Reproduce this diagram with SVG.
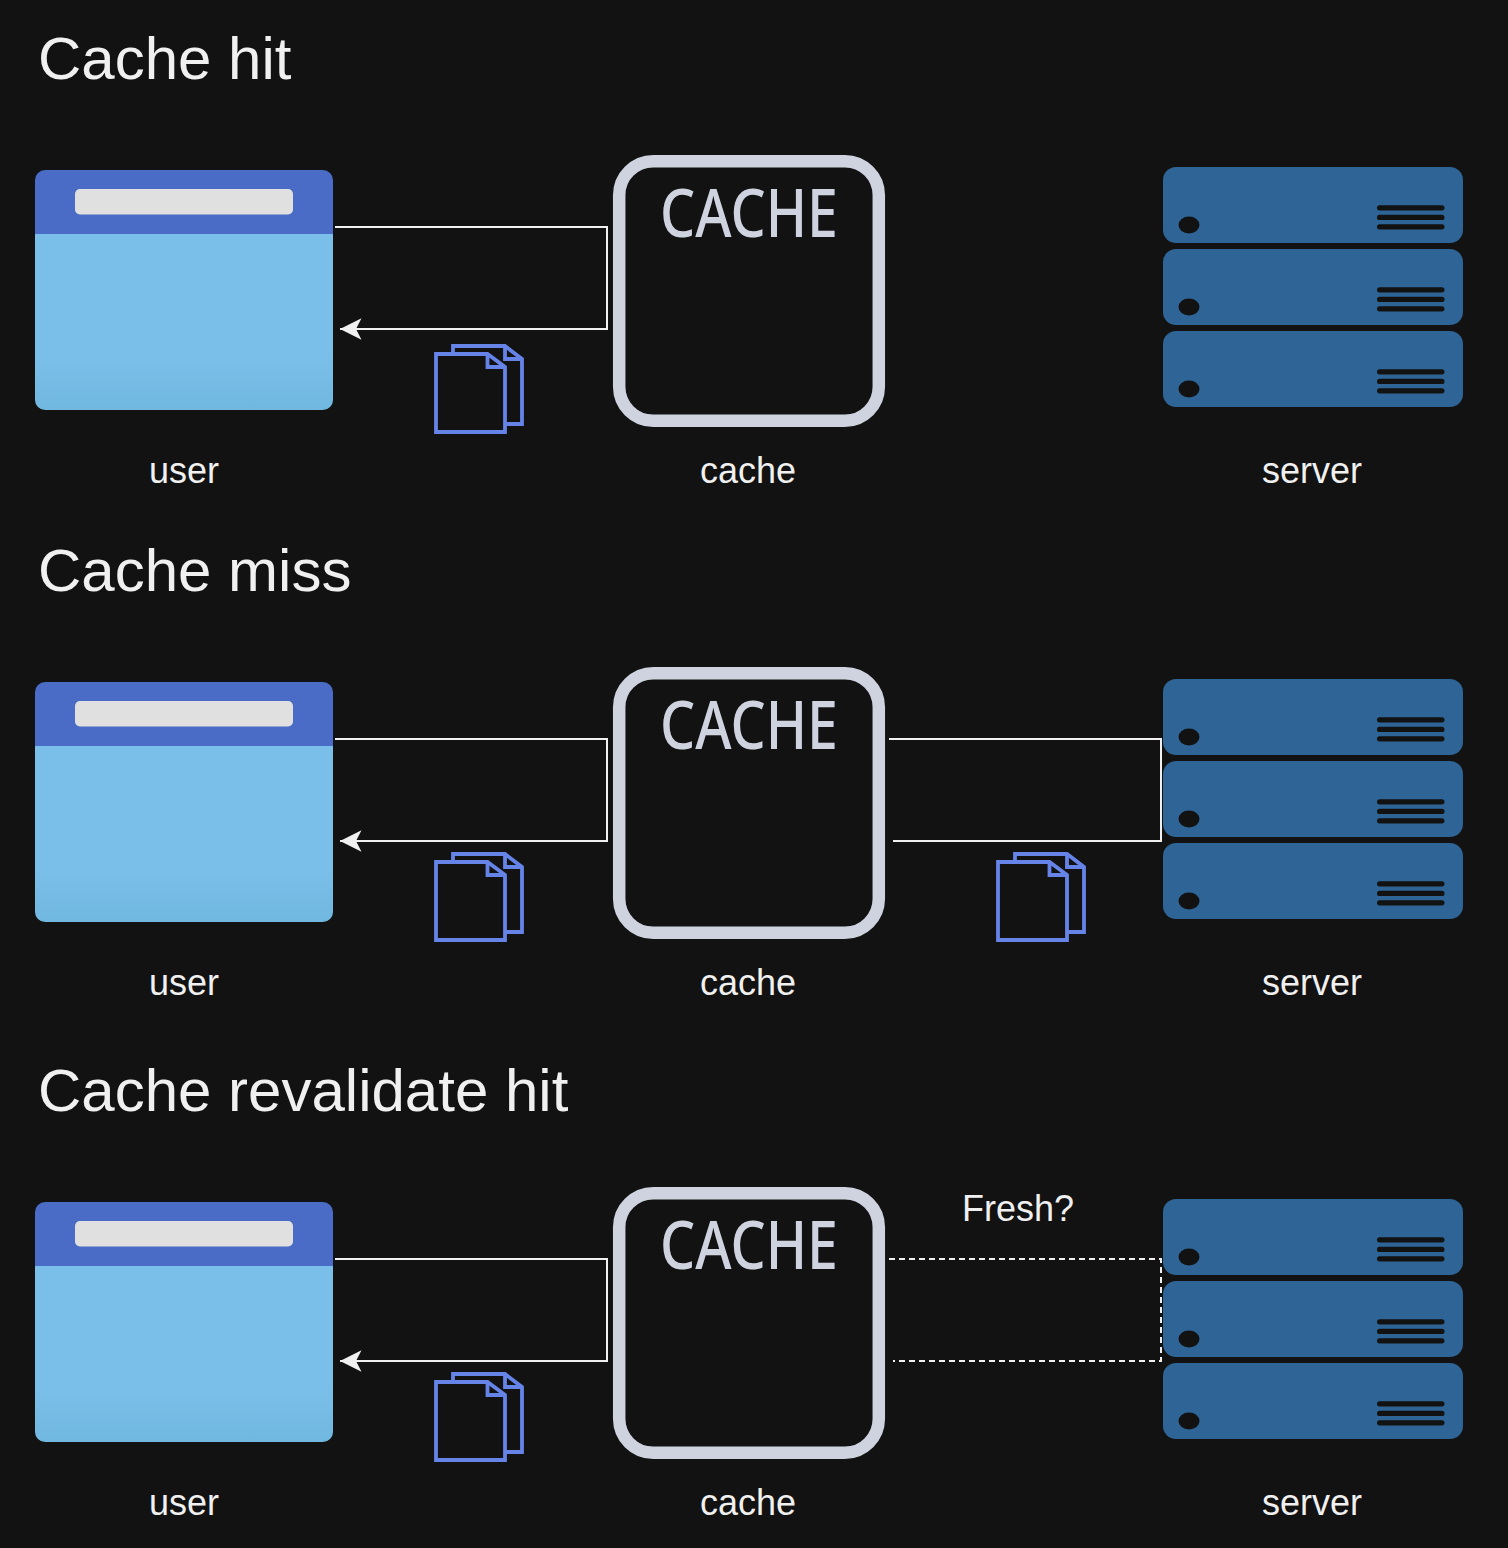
<svg xmlns="http://www.w3.org/2000/svg" width="1508" height="1548" viewBox="0 0 1508 1548">
<style>
.title{font:60px "Liberation Sans",Arial,sans-serif;fill:#f0f0f0}
.label{font:36px "Liberation Sans",Arial,sans-serif;fill:#f0f0f0;text-anchor:middle}
.cachetxt{font:500 67px "Noto Sans",sans-serif;fill:#cfd3e0;text-anchor:middle}
.wire{fill:none;stroke:#f0f0f0;stroke-width:2}
.dash{stroke-dasharray:6 4}
.doc{fill:none;stroke:#6684e8;stroke-width:3.800}
.slot{fill:#121212}
</style>
<defs>
<linearGradient id="body" x1="0" y1="0" x2="0" y2="1"><stop offset="0" stop-color="#79bfe9"/><stop offset="0.7" stop-color="#79bfe9"/><stop offset="1" stop-color="#71b8e1"/></linearGradient>
<marker id="arrow" markerUnits="userSpaceOnUse" markerWidth="24" markerHeight="24" refX="0.500" refY="12" orient="0" viewBox="0 0 24 24"><path d="M0.500 12 L22 1.300 L16.500 12 L22 22.700 Z" fill="#f0f0f0"/></marker>
<g id="browser">
<path d="M35 234V180a10 10 0 0 1 10-10H323a10 10 0 0 1 10 10V234Z" fill="#4a6cc6"/>
<path d="M35 234H333V400a10 10 0 0 1-10 10H45a10 10 0 0 1-10-10Z" fill="url(#body)"/>
<rect x="75" y="189" width="218" height="25.500" rx="5" fill="#e0e0e0"/>
</g>
<g id="box"><rect x="619.200" y="161.200" width="259.600" height="259.600" rx="34" fill="none" stroke="#cfd3e0" stroke-width="12.500"/></g>
<g id="unit">
<rect x="1163" y="167" width="300" height="76" rx="13" fill="#2e6596"/>
<ellipse class="slot" cx="1189" cy="225" rx="10.500" ry="8.500"/>
<rect class="slot" x="1377" y="205.200" width="67.500" height="5.200" rx="2.600"/>
<rect class="slot" x="1377" y="214.800" width="67.500" height="5.200" rx="2.600"/>
<rect class="slot" x="1377" y="224.200" width="67.500" height="5.200" rx="2.600"/>
</g>
<g id="rack"><use href="#unit"/><use href="#unit" y="82"/><use href="#unit" y="164"/></g>
<g id="docs">
<path class="doc" d="M453 356V346H505L522 359V424H505"/>
<path class="doc" d="M505 346V359H522"/>
<path class="doc" d="M436 354H487.500L505 367V432H436Z"/>
<path class="doc" d="M487.500 354V367H505"/>
</g>
</defs>
<rect width="1508" height="1548" fill="#121212"/>

<g id="connectors">
<path class="wire" marker-end="url(#arrow)" d="M335 227H607V329H340"/>
<path class="wire" marker-end="url(#arrow)" d="M335 739H607V841H340"/>
<path class="wire" d="M889 739H1161V841H893"/>
<path class="wire" marker-end="url(#arrow)" d="M335 1259H607V1361H340"/>
<path class="wire dash" d="M889 1259H1161V1361H893"/>
</g>

<g id="row1">
<text class="title" x="38" y="79">Cache hit</text>
<g id="user1"><use href="#browser"/><text class="label" x="184" y="483">user</text></g>
<g id="cache1"><use href="#box"/><text class="cachetxt" x="749" y="236.500" textLength="178" lengthAdjust="spacingAndGlyphs">CACHE</text><text class="label" x="748" y="483">cache</text></g>
<g id="server1"><use href="#rack"/><text class="label" x="1312" y="483">server</text></g>
<g id="docs1"><use href="#docs"/></g>
</g>

<g id="row2">
<text class="title" x="38" y="591">Cache miss</text>
<g id="user2"><use href="#browser" y="512"/><text class="label" x="184" y="995">user</text></g>
<g id="cache2"><use href="#box" y="512"/><text class="cachetxt" x="749" y="748.500" textLength="178" lengthAdjust="spacingAndGlyphs">CACHE</text><text class="label" x="748" y="995">cache</text></g>
<g id="server2"><use href="#rack" y="512"/><text class="label" x="1312" y="995">server</text></g>
<g id="docs2"><use href="#docs" y="508"/></g>
<g id="docs3"><use href="#docs" x="562" y="508"/></g>
</g>

<g id="row3">
<text class="title" x="38" y="1111">Cache revalidate hit</text>
<g id="user3"><use href="#browser" y="1032"/><text class="label" x="184" y="1515">user</text></g>
<g id="cache3"><use href="#box" y="1032"/><text class="cachetxt" x="749" y="1268.500" textLength="178" lengthAdjust="spacingAndGlyphs">CACHE</text><text class="label" x="748" y="1515">cache</text></g>
<g id="server3"><use href="#rack" y="1032"/><text class="label" x="1312" y="1515">server</text></g>
<g id="docs4"><use href="#docs" y="1028"/></g>
<text class="label" x="1018" y="1220.500">Fresh?</text>
</g>
</svg>
